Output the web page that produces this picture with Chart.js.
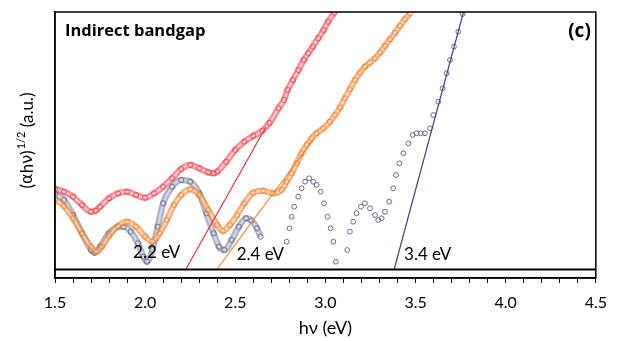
<!DOCTYPE html>
<html><head><meta charset="utf-8">
<script src="https://cdn.jsdelivr.net/npm/chart.js@4"></script>
<style>html,body{margin:0;padding:0;background:#fff}</style>
</head><body>
<canvas id="c" width="617" height="341"></canvas>
<script>
// ---- data (hv in eV, (alpha h nu)^1/2 in arbitrary units) ----
const xMajorTicks = [1.5, 2.0, 2.5, 3.0, 3.5, 4.0, 4.5];

const redE = [1.50,1.55,1.60,1.65,1.70,1.725,1.75,1.80,1.85,1.90,1.95,2.00,2.05,2.10,2.15,2.20,2.25,2.30,2.35,2.38,2.40,2.45,2.50,2.55,2.60,2.65,2.69,2.74,2.77,2.79,2.82,2.85,2.88,2.905,2.93,2.96,2.99,3.015,3.05];
const redY = [8.05,7.78,7.28,6.45,5.78,5.88,6.28,7.12,7.62,7.78,7.45,7.18,7.62,8.28,9.12,10.05,10.45,10.12,9.72,9.62,9.78,10.78,11.95,12.78,13.35,13.88,14.65,16.12,16.95,17.95,18.95,19.95,20.95,21.62,22.28,23.12,23.95,24.78,25.68];

const orangeE = [1.50,1.55,1.60,1.65,1.70,1.73,1.76,1.80,1.85,1.90,1.95,2.00,2.04,2.08,2.12,2.16,2.20,2.25,2.30,2.35,2.40,2.43,2.47,2.51,2.55,2.60,2.655,2.71,2.757,2.785,2.813,2.84,2.868,2.896,2.924,2.951,2.988,3.025,3.053,3.081,3.108,3.136,3.164,3.192,3.219,3.247,3.275,3.303,3.33,3.358,3.386,3.413,3.441,3.469];
const orangeY = [7.02,6.35,5.12,3.62,2.28,1.78,2.28,3.38,4.35,4.78,4.28,3.28,2.78,3.62,4.95,6.45,7.45,8.02,7.45,5.95,4.45,3.85,4.45,5.45,6.62,7.68,7.88,7.62,7.95,8.78,9.62,10.62,11.62,12.45,13.12,13.62,14.12,14.78,15.45,16.22,17.12,18.02,18.95,19.68,20.28,20.68,21.12,21.68,22.35,23.02,23.68,24.35,25.02,25.62];

const navyDenseE = [1.50,1.55,1.60,1.65,1.70,1.72,1.75,1.80,1.85,1.88,1.92,1.96,1.99,2.01,2.04,2.07,2.10,2.15,2.20,2.25,2.30,2.34,2.38,2.41,2.44,2.48,2.52,2.56,2.59,2.62,2.64];
const navyDenseY = [7.55,6.95,5.45,3.62,1.95,1.68,2.28,3.62,4.28,4.28,3.78,2.62,1.28,0.78,1.95,4.28,6.62,8.28,8.95,8.78,7.62,5.62,3.62,2.28,1.95,2.95,4.28,5.12,4.88,4.12,3.28];

const navySparseE = [2.785,2.80,2.813,2.827,2.849,2.868,2.887,2.910,2.933,2.951,2.974,2.992,3.012,3.029,3.044,3.058,3.121,3.136,3.154,3.173,3.197,3.219,3.247,3.275,3.293,3.312,3.330,3.354,3.376,3.391,3.410,3.432,3.460,3.484,3.506,3.528,3.552,3.580,3.598,3.626,3.650,3.672,3.691,3.713,3.737,3.761];
const navySparseY = [2.78,4.12,5.28,6.28,7.28,8.12,8.78,9.12,8.78,8.45,7.78,6.62,5.28,4.12,2.78,0.78,1.95,3.78,4.78,5.62,6.28,6.62,6.12,5.45,4.95,5.12,5.78,6.78,8.12,9.45,10.62,11.62,12.62,13.45,13.62,13.62,13.62,14.12,15.45,16.78,18.12,19.62,20.95,22.28,23.78,25.55];

// linear fits (Tauc extrapolation)
const redFitE = [2.225, 2.67];   const redFitY = [0, 14.25];
const orangeFitE = [2.397, 2.93]; const orangeFitY = [0, 12.95];
const navyFitE = [3.381, 3.766];  const navyFitY = [0, 25.75];

const gapLabels = ["2.2 eV", "2.4 eV", "3.4 eV"];
const gapLabelE = [1.933, 2.508, 3.436];
const gapLabelY = [1.12, 1.0, 1.0];

const yMin = -0.85, yMax = 25.75;

// ---- build ----
const pts = (xs, ys) => xs.map((x, i) => ({x, y: ys[i]}));
const FONT = "Lato, 'Open Sans', sans-serif";
const NAVY = 'rgb(100,104,148)';

function ribbon(data, col, outer, inner, order) {
  return [
    {data, order: order + 1, showLine: true, borderColor: outer, borderWidth: 6.5, cubicInterpolationMode: 'monotone', pointRadius: 0},
    {data, order: order, showLine: true, borderColor: inner, borderWidth: 2, cubicInterpolationMode: 'monotone',
      pointRadius: 2.6, pointBorderColor: col, pointBackgroundColor: 'rgba(0,0,0,0)', pointBorderWidth: 0.9}
  ];
}
const datasets = [
  {data: [{x:1.5,y:0},{x:4.5,y:0}], order: 0, showLine: true, borderColor: '#000', borderWidth: 2, pointRadius: 0},
  ...ribbon(pts(navyDenseE, navyDenseY), NAVY, 'rgba(100,104,148,0.5)', 'rgba(255,255,255,0.5)', 20),
  {data: pts(navySparseE, navySparseY), order: 19, showLine: false, pointRadius: 2.4, pointBorderColor: NAVY,
    pointBackgroundColor: 'rgba(0,0,0,0)', pointBorderWidth: 1},
  ...ribbon(pts(orangeE, orangeY), 'rgb(240,136,55)', 'rgba(240,136,55,0.65)', 'rgba(255,255,255,0.5)', 10),
  ...ribbon(pts(redE, redY), 'rgb(240,70,82)', 'rgba(240,70,82,0.6)', 'rgba(255,255,255,0.5)', 5),
  {data: pts(redFitE, redFitY), order: 1, showLine: true, borderColor: 'rgb(236,50,60)', borderWidth: 1.2, pointRadius: 0},
  {data: pts(orangeFitE, orangeFitY), order: 1, showLine: true, borderColor: 'rgb(240,130,45)', borderWidth: 1.2, pointRadius: 0},
  {data: pts(navyFitE, navyFitY), order: 1, showLine: true, borderColor: 'rgb(60,75,120)', borderWidth: 1.2, pointRadius: 0},
];

const framePlugin = {
  id: 'frame',
  afterDatasetsDraw(chart) {
    const {ctx, chartArea: a, scales: {x, y}} = chart;
    ctx.save();
    ctx.strokeStyle = '#000'; ctx.lineWidth = 1.5;
    ctx.strokeRect(a.left, a.top, a.right - a.left, a.bottom - a.top);
    // annotations
    ctx.fillStyle = '#000';
    ctx.textBaseline = 'alphabetic';
    ctx.font = "17px " + FONT;
    gapLabels.forEach((t, i) => ctx.fillText(t, x.getPixelForValue(gapLabelE[i]), y.getPixelForValue(gapLabelY[i])));
    ctx.font = "bold 16.5px 'Open Sans', sans-serif";
    ctx.fillText("Indirect bandgap", a.left + 10, a.top + 24);
    ctx.font = "bold 19px 'Open Sans', sans-serif";
    ctx.textAlign = 'right';
    ctx.fillText("(c)", a.right - 5, a.top + 25);
    // y axis title with superscript
    ctx.translate(28, (a.top + a.bottom) / 2 - 4);
    ctx.rotate(-Math.PI / 2);
    ctx.textAlign = 'left';
    ctx.textBaseline = 'middle';
    const f1 = "17px " + FONT, fg = "16px 'DejaVu Sans', sans-serif", f2 = "11px " + FONT;
    ctx.font = f1; const wp = ctx.measureText("(").width, wr = ctx.measureText("h").width, w3 = ctx.measureText(" (a.u.)").width;
    ctx.font = fg; const wa = ctx.measureText("\u03B1").width, wn = ctx.measureText("\u03BD").width;
    ctx.font = f1; const wc = ctx.measureText(")").width;
    ctx.font = f2; const w2 = ctx.measureText("1/2").width;
    let sx = -(wp + wa + wr + wn + wc + w2 + w3) / 2;
    ctx.font = f1; ctx.fillText("(", sx, 0); sx += wp;
    ctx.font = fg; ctx.fillText("\u03B1", sx, 0); sx += wa;
    ctx.font = f1; ctx.fillText("h", sx, 0); sx += wr;
    ctx.font = fg; ctx.fillText("\u03BD", sx, 0); sx += wn;
    ctx.font = f1; ctx.fillText(")", sx, 0); sx += wc;
    ctx.font = f2; ctx.fillText("1/2", sx + 1, -7); sx += w2 + 1;
    ctx.font = f1; ctx.fillText(" (a.u.)", sx, 0);
    ctx.restore();
  }
};

new Chart(document.getElementById('c'), {
  type: 'scatter',
  data: {datasets},
  options: {
    responsive: false, animation: false, events: [],
    layout: {padding: {top: 12, right: 21, left: 0, bottom: 0}},
    plugins: {legend: {display: false}, tooltip: {enabled: false}},
    scales: {
      x: {type: 'linear', min: 1.5, max: 4.5,
        afterFit: s => { s.height = 63; },
        ticks: {stepSize: 0.1, autoSkip: false, maxRotation: 0, padding: 10, color: '#000',
          font: {family: FONT, size: 16},
          callback: v => xMajorTicks.some(m => Math.abs(m - v) < 1e-6) ? v.toFixed(1) : ''},
        grid: {display: true, drawOnChartArea: false, drawTicks: true, tickLength: 5, color: '#000', lineWidth: 1},
        border: {display: true, color: '#000', width: 1.5},
        title: {display: true, text: 'h\u03BD (eV)', color: '#000', font: {family: FONT, size: 18}, padding: {top: 0, bottom: 2}}
      },
      y: {type: 'linear', min: yMin, max: yMax,
        afterFit: s => { s.width = 55; },
        ticks: {display: false},
        grid: {display: false},
        border: {display: true, color: '#000', width: 1.5}
      }
    }
  },
  plugins: [framePlugin]
});
</script>
</body></html>
